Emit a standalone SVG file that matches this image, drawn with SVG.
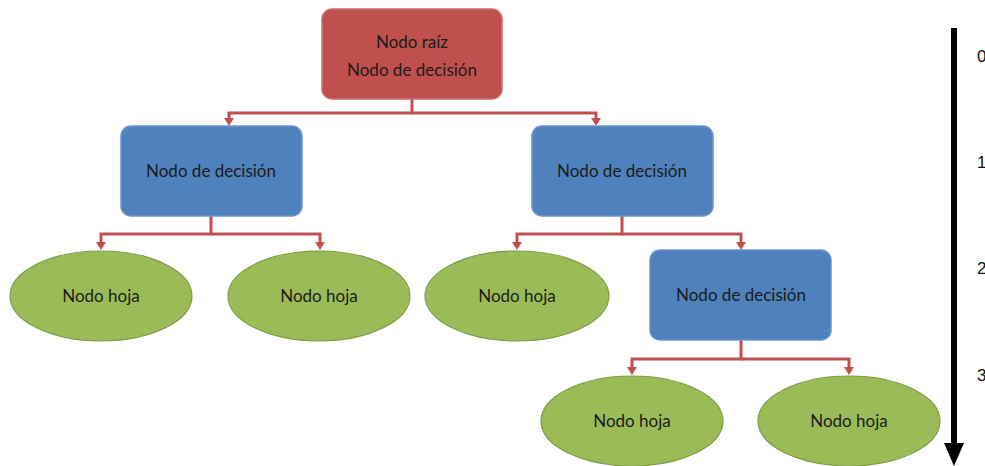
<svg xmlns="http://www.w3.org/2000/svg" width="985" height="466" viewBox="0 0 985 466">
<style>
.root{fill:#C0504D;stroke:#CD6E6B;stroke-width:1.5}
.dec{fill:#4F81BD;stroke:#6B95C8;stroke-width:1.5}
.leaf{fill:#9BBB59;stroke:#7E9C44;stroke-width:1.2}
.lbl{font-family:Lato,"Liberation Sans",sans-serif;font-size:17px;fill:#1b1b1b;text-anchor:middle}
.con{fill:none;stroke:#C0504D;stroke-width:3}
.num{font-family:"Liberation Sans",Arial,sans-serif;font-size:17px;fill:#111}
</style>
<defs>
<marker id="ah" markerWidth="8" markerHeight="10" refX="1" refY="5" orient="auto" markerUnits="userSpaceOnUse" viewBox="0 0 8 10">
<path d="M0,0 L8,5 L0,10 z" fill="#C0504D"/>
</marker>
</defs>
<rect width="985" height="466" fill="#fff"/>
<g id="connectors">
<path class="con" d="M412,99 V113 H229 V119" marker-end="url(#ah)"/>
<path class="con" d="M412,113 H596 V119" marker-end="url(#ah)"/>
<path class="con" d="M211,216 V234 H101 V243" marker-end="url(#ah)"/>
<path class="con" d="M211,234 H320 V243" marker-end="url(#ah)"/>
<path class="con" d="M622,216 V234 H517 V243" marker-end="url(#ah)"/>
<path class="con" d="M622,234 H741 V243" marker-end="url(#ah)"/>
<path class="con" d="M741,340 V359 H632 V368" marker-end="url(#ah)"/>
<path class="con" d="M741,359 H849 V368" marker-end="url(#ah)"/>
</g>
<g id="root">
<rect class="root" x="322" y="9" width="180" height="90" rx="10"/>
<text class="lbl" x="412" y="48">Nodo raíz</text>
<text class="lbl" x="412" y="76">Nodo de decisión</text>
</g>
<g id="dec1">
<rect class="dec" x="121" y="126" width="181" height="90" rx="10"/>
<text class="lbl" x="211" y="177">Nodo de decisión</text>
</g>
<g id="dec2">
<rect class="dec" x="532" y="126" width="181" height="90" rx="10"/>
<text class="lbl" x="622" y="177">Nodo de decisión</text>
</g>
<g id="dec3">
<rect class="dec" x="650" y="250" width="181" height="90" rx="10"/>
<text class="lbl" x="741" y="301">Nodo de decisión</text>
</g>
<g id="leaf1">
<ellipse class="leaf" cx="101" cy="296" rx="91" ry="45"/>
<text class="lbl" x="101" y="302">Nodo hoja</text>
</g>
<g id="leaf2">
<ellipse class="leaf" cx="319" cy="296" rx="91" ry="45"/>
<text class="lbl" x="319" y="302">Nodo hoja</text>
</g>
<g id="leaf3">
<ellipse class="leaf" cx="517" cy="296" rx="92" ry="45"/>
<text class="lbl" x="517" y="302">Nodo hoja</text>
</g>
<g id="leaf4">
<ellipse class="leaf" cx="632" cy="421" rx="91" ry="45"/>
<text class="lbl" x="632" y="427">Nodo hoja</text>
</g>
<g id="leaf5">
<ellipse class="leaf" cx="849" cy="421" rx="91" ry="45"/>
<text class="lbl" x="849" y="427">Nodo hoja</text>
</g>
<g id="depth-axis">
<rect x="951" y="28" width="6" height="416" fill="#000"/>
<path d="M944,443 L964,443 L954,466 z" fill="#000"/>
<text class="num" x="977" y="62">0</text>
<text class="num" x="977" y="168">1</text>
<text class="num" x="977" y="274">2</text>
<text class="num" x="977" y="381">3</text>
</g>
</svg>
